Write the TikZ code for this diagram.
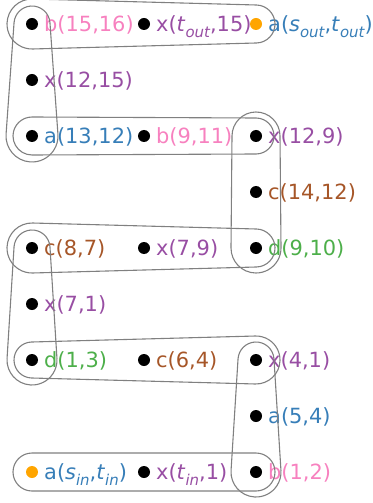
\documentclass[tikz,border=0pt]{standalone}
\usepackage{fontspec}
\setmainfont{DejaVu Sans}
\usetikzlibrary{calc}
\definecolor{cpink}{HTML}{F781BF}
\definecolor{cpurple}{HTML}{984EA3}
\definecolor{cblue}{HTML}{377EB8}
\definecolor{cbrown}{HTML}{A65628}
\definecolor{cgreen}{HTML}{4DAF4A}
\definecolor{corange}{HTML}{FFA500}
\definecolor{chull}{HTML}{808080}
\newcommand\sbs[1]{\raisebox{-0.28em}{\fontsize{15}{15}\selectfont\itshape #1}}
\newcommand\hullpath[4]{%
  \draw[hull] let \p1=(#1.center), \p2=(#3.center),
    \n1={atan2(\y2-\y1,\x2-\x1)}, \n2={veclen(\x2-\x1,\y2-\y1)},
    \n3={acos((#2-#4)*1.00375/\n2)} in
    ($(#3.center)+(\n1-\n3:#4bp)$) arc[start angle=\n1-\n3, end angle=\n1+\n3, radius=#4bp]
    -- ($(#1.center)+(\n1+\n3:#2bp)$) arc[start angle=\n1+\n3, end angle=\n1-\n3+360, radius=#2bp]
    -- cycle;}
\tikzset{
  dotn/.style={circle, fill=black, inner sep=0pt, minimum size=12bp},
  odot/.style={circle, fill=corange, inner sep=0pt, minimum size=12bp},
  lbl/.style={anchor=base west, inner sep=0pt, font=\fontsize{21}{25}\selectfont},
  hull/.style={draw=chull, line width=1.1bp},
}
\begin{document}
\begin{tikzpicture}[x=1bp, y=1bp]
\useasboundingbox (0,0) rectangle (372,-503);
% row 24
\node[dotn] (n1) at (32,-24) {};
\node[lbl, text=cpink] (l1) at ([xshift=12bp,yshift=-7.5bp]n1.center) {b(15,16)};
\node[dotn] (n2) at (144,-24) {};
\node[lbl, text=cpurple] (l2) at ([xshift=12bp,yshift=-7.5bp]n2.center) {x(\textit{t}\sbs{out},15)};
\node[odot] (n3) at (256,-24) {};
\node[lbl, text=cblue] (l3) at ([xshift=12bp,yshift=-7.5bp]n3.center) {a(\textit{s}\sbs{out},\textit{t}\sbs{out})};
% row 80
\node[dotn] (n4) at (32,-80) {};
\node[lbl, text=cpurple] (l4) at ([xshift=12bp,yshift=-7.5bp]n4.center) {x(12,15)};
% row 136
\node[dotn] (n5) at (32,-136) {};
\node[lbl, text=cblue] (l5) at ([xshift=12bp,yshift=-7.5bp]n5.center) {a(13,12)};
\node[dotn] (n6) at (144,-136) {};
\node[lbl, text=cpink] (l6) at ([xshift=12bp,yshift=-7.5bp]n6.center) {b(9,11)};
\node[dotn] (n7) at (256,-136) {};
\node[lbl, text=cpurple] (l7) at ([xshift=12bp,yshift=-7.5bp]n7.center) {x(12,9)};
% row 192
\node[dotn] (n8) at (256,-192) {};
\node[lbl, text=cbrown] (l8) at ([xshift=12bp,yshift=-7.5bp]n8.center) {c(14,12)};
% row 248
\node[dotn] (n9) at (32,-248) {};
\node[lbl, text=cbrown] (l9) at ([xshift=12bp,yshift=-7.5bp]n9.center) {c(8,7)};
\node[dotn] (n10) at (144,-248) {};
\node[lbl, text=cpurple] (l10) at ([xshift=12bp,yshift=-7.5bp]n10.center) {x(7,9)};
\node[dotn] (n11) at (256,-248) {};
\node[lbl, text=cgreen] (l11) at ([xshift=12bp,yshift=-7.5bp]n11.center) {d(9,10)};
% row 304
\node[dotn] (n12) at (32,-304) {};
\node[lbl, text=cpurple] (l12) at ([xshift=12bp,yshift=-7.5bp]n12.center) {x(7,1)};
% row 360
\node[dotn] (n13) at (32,-360) {};
\node[lbl, text=cgreen] (l13) at ([xshift=12bp,yshift=-7.5bp]n13.center) {d(1,3)};
\node[dotn] (n14) at (144,-360) {};
\node[lbl, text=cbrown] (l14) at ([xshift=12bp,yshift=-7.5bp]n14.center) {c(6,4)};
\node[dotn] (n15) at (256,-360) {};
\node[lbl, text=cpurple] (l15) at ([xshift=12bp,yshift=-7.5bp]n15.center) {x(4,1)};
% row 416
\node[dotn] (n16) at (256,-416) {};
\node[lbl, text=cblue] (l16) at ([xshift=12bp,yshift=-7.5bp]n16.center) {a(5,4)};
% row 472
\node[odot] (n17) at (32,-472) {};
\node[lbl, text=cblue] (l17) at ([xshift=12bp,yshift=-7.5bp]n17.center) {a(\textit{s}\sbs{in},\textit{t}\sbs{in})};
\node[dotn] (n18) at (144,-472) {};
\node[lbl, text=cpurple] (l18) at ([xshift=12bp,yshift=-7.5bp]n18.center) {x(\textit{t}\sbs{in},1)};
\node[dotn] (n19) at (256,-472) {};
\node[lbl, text=cpink] (l19) at ([xshift=12bp,yshift=-7.5bp]n19.center) {b(1,2)};
% hulls
\hullpath{n1}{25}{n3}{19}
\hullpath{n1}{18}{n5}{26}
\hullpath{n5}{19}{n7}{18}
\hullpath{n7}{24}{n11}{25}
\hullpath{n9}{25}{n11}{19}
\hullpath{n9}{18}{n13}{25}
\hullpath{n13}{18}{n15}{24}
\hullpath{n15}{18}{n19}{25}
\hullpath{n17}{19}{n19}{19}
\end{tikzpicture}
\end{document}
